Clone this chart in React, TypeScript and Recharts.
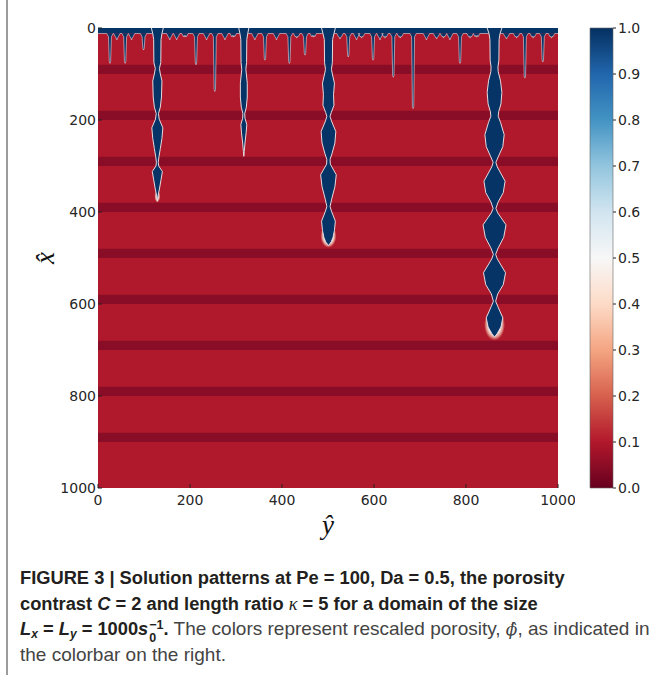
import React from "react";
import { ScatterChart, Scatter, XAxis, YAxis, ReferenceArea, BarChart, Bar } from "recharts";

// col = ŷ (horizontal), row = x̂ (vertical, pointing down)
const AXIS_TICKS = [0, 200, 400, 600, 800, 1000];
const CBAR_TICKS = [0, 0.1, 0.2, 0.3, 0.4, 0.5, 0.6, 0.7, 0.8, 0.9, 1.0];
const CBAR_RANGE = [{ name: "phi", top: 1 }];

// low porosity layers
const BAND_START = [80, 180, 280, 380, 480, 580, 680, 780, 880];
const BAND_END = [100, 200, 300, 400, 500, 600, 700, 800, 900];

// dissolution front near the inlet
const FRONT_ROW = 12;
const FINGER_COL = [26, 41, 59, 73, 99, 156, 171, 189, 213, 236, 254, 276, 294, 341, 363, 388, 416, 432, 450, 468, 526, 544, 562, 573, 598, 613, 624, 642, 657, 685, 714, 736, 751, 765, 787, 809, 823, 888, 910, 928, 946, 967, 986];
const FINGER_DEPTH = [77, 26, 77, 26, 48, 26, 26, 20, 80, 26, 138, 26, 20, 26, 70, 26, 77, 22, 59, 20, 24, 63, 26, 22, 70, 26, 22, 107, 22, 175, 26, 24, 22, 26, 77, 22, 20, 24, 22, 109, 22, 74, 22];

// wormholes: depth along x̂ and half width along ŷ
const CH_A_COL = 129;
const CH_A_ROW = [0, 12, 25, 75, 88, 100, 115, 150, 172, 186, 198, 217, 240, 262, 280, 292, 300, 312, 330, 350, 365, 377];
const CH_A_HALF = [13, 10, 8, 7.5, 4.5, 6.5, 10, 9, 6.5, 2.5, 4, 12, 10, 6.5, 3.5, 2, 3, 11, 8, 4.5, 1.5, 0];

const CH_B_COL = 317;
const CH_B_ROW = [0, 12, 25, 75, 90, 100, 120, 150, 172, 186, 196, 210, 228, 250, 268, 279];
const CH_B_HALF = [11, 8.5, 6.5, 6, 4.5, 5.5, 7.5, 7.5, 5.5, 2, 2.5, 6.5, 5, 2.5, 1, 0];

const CH_C_COL = 501;
const CH_C_ROW = [0, 12, 25, 75, 90, 100, 120, 145, 168, 184, 192, 202, 225, 250, 272, 286, 296, 319, 345, 372, 388, 398, 420, 440, 455, 465, 473];
const CH_C_HALF = [15, 12, 9, 8.5, 6.5, 8.5, 13, 11, 12, 6, 3.5, 6.5, 16, 14, 8, 3.5, 4, 17, 14, 7, 3.5, 6.5, 15, 13, 10, 6, 0];

const CH_D_COL = 862;
const CH_D_ROW = [0, 12, 25, 70, 85, 95, 115, 140, 165, 182, 192, 205, 232, 258, 278, 292, 302, 333, 358, 378, 392, 402, 428, 455, 478, 492, 502, 532, 558, 578, 594, 605, 630, 650, 664, 672];
const CH_D_HALF = [16, 12, 10, 9.5, 7.5, 8, 13, 16, 14, 9, 8, 13, 21, 18, 9, 3, 6, 23, 19, 8, 3, 7, 25, 20, 8, 2.5, 6, 24, 19, 7, 2.5, 7, 18, 14, 6, 0];

// bright rims round the active tips
const GLOW_COL = [501, 862, 862, 129];
const GLOW_ROW = [452, 645, 540, 366];
const GLOW_RX = [8, 10.5, 11.5, 3];
const GLOW_RY = [12, 16, 15, 6];
const GLOW_OPACITY = [1, 1, 0.45, 0.7];

// RdBu_r
const CBAR_COLORS = ["#67001f", "#b2182b", "#d6604d", "#f4a582", "#fddbc7", "#f7f7f7", "#d1e5f0", "#92c5de", "#4393c3", "#2166ac", "#053061"];
const RED = "#b0192b";
const DARK = "#8a0d27";
const BLUE = "#073467";
const EDGE = "#e6dadd";

const outline = (center: number, rows: number[], halves: number[]) => [
  ...rows.map((r, i) => ({ col: center - halves[i], row: r })),
  ...rows.map((r, i) => ({ col: center + halves[i], row: r })).reverse(),
];

const fringe: { col: number; row: number }[] = [{ col: 0, row: FRONT_ROW }];
FINGER_COL.forEach((c, i) => {
  const d = FINGER_DEPTH[i];
  fringe.push(
    { col: c - 7, row: FRONT_ROW },
    { col: c - 3.2, row: FRONT_ROW + 7 },
    { col: c - 1.5, row: d - 4 },
    { col: c, row: d },
    { col: c + 1.5, row: d - 4 },
    { col: c + 3.2, row: FRONT_ROW + 7 },
    { col: c + 7, row: FRONT_ROW }
  );
});
fringe.push({ col: 1000, row: FRONT_ROW });

const channels = [
  outline(CH_A_COL, CH_A_ROW, CH_A_HALF),
  outline(CH_B_COL, CH_B_ROW, CH_B_HALF),
  outline(CH_C_COL, CH_C_ROW, CH_C_HALF),
  outline(CH_D_COL, CH_D_ROW, CH_D_HALF),
];

const TICK_FONT = 14;
const tickStyle = { fontSize: TICK_FONT, fill: "#262626", fontFamily: "DejaVu Sans" };
const mathStyle = { fontFamily: "Liberation Serif", fontStyle: "italic", fontSize: 27, fill: "#111" };

const Nothing = () => <g />;

const App = () => {
  return (
    <div style={{ position: "absolute", left: 0, top: 0, width: 655, height: 675, background: "#fff", overflow: "hidden" }}>
      <div style={{ position: "absolute", left: 6, top: 0, width: 1.5, height: 675, background: "#9c9c9c" }} />
      <div style={{ position: "absolute", left: 0, top: 0 }}>
        <ScatterChart width={575} height={548} margin={{ top: 28, right: 17, bottom: 0, left: 38 }}>
          <defs>
            <radialGradient id="tipGlow">
              <stop offset="55%" stopColor="#ffffff" stopOpacity={1} />
              <stop offset="80%" stopColor="#fddbc7" stopOpacity={0.6} />
              <stop offset="100%" stopColor="#f4a582" stopOpacity={0} />
            </radialGradient>
          </defs>
          <XAxis
            xAxisId="b"
            type="number"
            dataKey="col"
            domain={[0, 1000]}
            ticks={AXIS_TICKS}
            interval={0}
            allowDataOverflow
            axisLine={false}
            tickSize={-4}
            tickMargin={11}
            tickLine={{ stroke: "#222" }}
            tick={tickStyle}
            fontSize={TICK_FONT}
            height={60}
            label={{
              content: (p: any) => (
                <text x={p.viewBox.x + p.viewBox.width / 2} y={p.viewBox.y + 37} textAnchor="middle" dominantBaseline="central" style={mathStyle}>
                  {"y\u0302"}
                </text>
              ),
            }}
          />
          <XAxis xAxisId="t" orientation="top" type="number" domain={[0, 1000]} ticks={AXIS_TICKS} interval={0} allowDataOverflow axisLine={false} tick={false} tickSize={-4} tickLine={{ stroke: "#222" }} height={0} />
          <YAxis
            yAxisId="l"
            type="number"
            dataKey="row"
            domain={[0, 1000]}
            reversed
            ticks={AXIS_TICKS}
            interval={0}
            allowDataOverflow
            axisLine={false}
            tickSize={-4}
            tickMargin={6}
            tickLine={{ stroke: "#222" }}
            tick={tickStyle}
            fontSize={TICK_FONT}
            width={60}
            label={{
              content: (p: any) => {
                const x = p.viewBox.x + 7;
                const y = p.viewBox.y + p.viewBox.height / 2;
                return (
                  <text x={x} y={y} transform={`rotate(-90 ${x} ${y})`} textAnchor="middle" dominantBaseline="central" style={mathStyle}>
                    {"x\u0302"}
                  </text>
                );
              },
            }}
          />
          <YAxis yAxisId="r" orientation="right" type="number" domain={[0, 1000]} reversed ticks={AXIS_TICKS} interval={0} allowDataOverflow axisLine={false} tick={false} tickSize={-4} tickLine={{ stroke: "#222" }} width={0} />

          <ReferenceArea xAxisId="b" yAxisId="l" x1={0} x2={1000} y1={0} y2={1000} fill={RED} fillOpacity={1} stroke="none" />
          {BAND_START.map((s, i) => (
            <ReferenceArea key={`band-${i}`} xAxisId="b" yAxisId="l" x1={0} x2={1000} y1={s} y2={BAND_END[i]} fill={DARK} fillOpacity={1} stroke="none" />
          ))}
          <ReferenceArea xAxisId="b" yAxisId="l" x1={0} x2={1000} y1={0} y2={FRONT_ROW} fill={BLUE} fillOpacity={1} stroke="none" />

          {GLOW_COL.map((c, i) => (
            <Scatter
              key={`glow-${i}`}
              xAxisId="b"
              yAxisId="l"
              data={[{ col: c, row: GLOW_ROW[i] }]}
              isAnimationActive={false}
              shape={(p: any) => (
                <ellipse cx={p.cx} cy={p.cy} rx={GLOW_RX[i]} ry={GLOW_RY[i]} fill="url(#tipGlow)" opacity={GLOW_OPACITY[i]} />
              )}
            />
          ))}

          <Scatter
            xAxisId="b"
            yAxisId="l"
            data={fringe}
            isAnimationActive={false}
            shape={Nothing}
            line={{ fill: BLUE, stroke: EDGE, strokeWidth: 0.6, strokeLinejoin: "round" }}
            lineJointType="linear"
          />
          {channels.map((pts, i) => (
            <Scatter
              key={`ch-${i}`}
              xAxisId="b"
              yAxisId="l"
              data={pts}
              isAnimationActive={false}
              shape={Nothing}
              line={{ fill: BLUE, stroke: EDGE, strokeWidth: 1, strokeLinejoin: "round" }}
              lineJointType="linear"
            />
          ))}
        </ScatterChart>
      </div>

      <div style={{ position: "absolute", left: 575, top: 0 }}>
        <BarChart width={83} height={548} margin={{ top: 28, right: 0, bottom: 60, left: 15 }} data={CBAR_RANGE} barCategoryGap={0}>
          <defs>
            <linearGradient id="rdbu" x1="0" y1="1" x2="0" y2="0">
              {CBAR_COLORS.map((c, i) => (
                <stop key={c} offset={`${i * 10}%`} stopColor={c} />
              ))}
            </linearGradient>
          </defs>
          <XAxis dataKey="name" hide />
          <YAxis
            type="number"
            orientation="right"
            domain={[0, 1]}
            ticks={CBAR_TICKS}
            interval={0}
            width={45}
            axisLine={false}
            tickSize={3}
            tickMargin={2}
            tickLine={{ stroke: "#222" }}
            tick={tickStyle}
            fontSize={TICK_FONT}
            tickFormatter={(v: number) => v.toFixed(1)}
          />
          <Bar dataKey="top" fill="url(#rdbu)" stroke="#666" strokeWidth={0.6} isAnimationActive={false} />
        </BarChart>
      </div>

      <div
        style={{
          position: "absolute",
          left: 20,
          top: 565,
          width: 630,
          fontFamily: '"Liberation Sans", Arial, sans-serif',
          color: "#444",
          whiteSpace: "nowrap",
        }}
      >
        <div style={{ height: 25.7, lineHeight: "25.7px", fontSize: 18.3, fontWeight: 700, color: "#231f20" }}>
          FIGURE 3 | Solution patterns at Pe = 100, Da = 0.5, the porosity
        </div>
        <div style={{ height: 25.7, lineHeight: "25.7px", fontSize: 18.3, fontWeight: 700, color: "#231f20" }}>
          contrast <i>C</i> = 2 and length ratio <i style={{ fontFamily: "Liberation Serif", fontWeight: 400 }}>κ</i> = 5 for a domain of the size
        </div>
        <div style={{ height: 25.7, lineHeight: "25.7px", fontSize: 19 }}>
          <span style={{ fontWeight: 700, color: "#231f20", fontSize: 18.3 }}>
            <i>L</i>
            <sub style={{ fontSize: 12, fontStyle: "italic", verticalAlign: "-3px", lineHeight: 0 }}>x</sub> = <i>L</i>
            <sub style={{ fontSize: 12, fontStyle: "italic", verticalAlign: "-3px", lineHeight: 0 }}>y</sub> = 1000<i>s</i>
            <span style={{ display: "inline-block", verticalAlign: "-7px", lineHeight: "13px", fontSize: 12.5, marginLeft: 1 }}>
              −1
              <br />0
            </span>
            .
          </span>{" "}
          The colors represent rescaled porosity,{" "}
          <i style={{ fontFamily: "DejaVu Serif", fontSize: 17 }}>{"\u03D5\u0302"}</i>, as indicated in
        </div>
        <div style={{ height: 25.7, lineHeight: "25.7px", fontSize: 19 }}>the colorbar on the right.</div>
      </div>
    </div>
  );
};

export default App;
